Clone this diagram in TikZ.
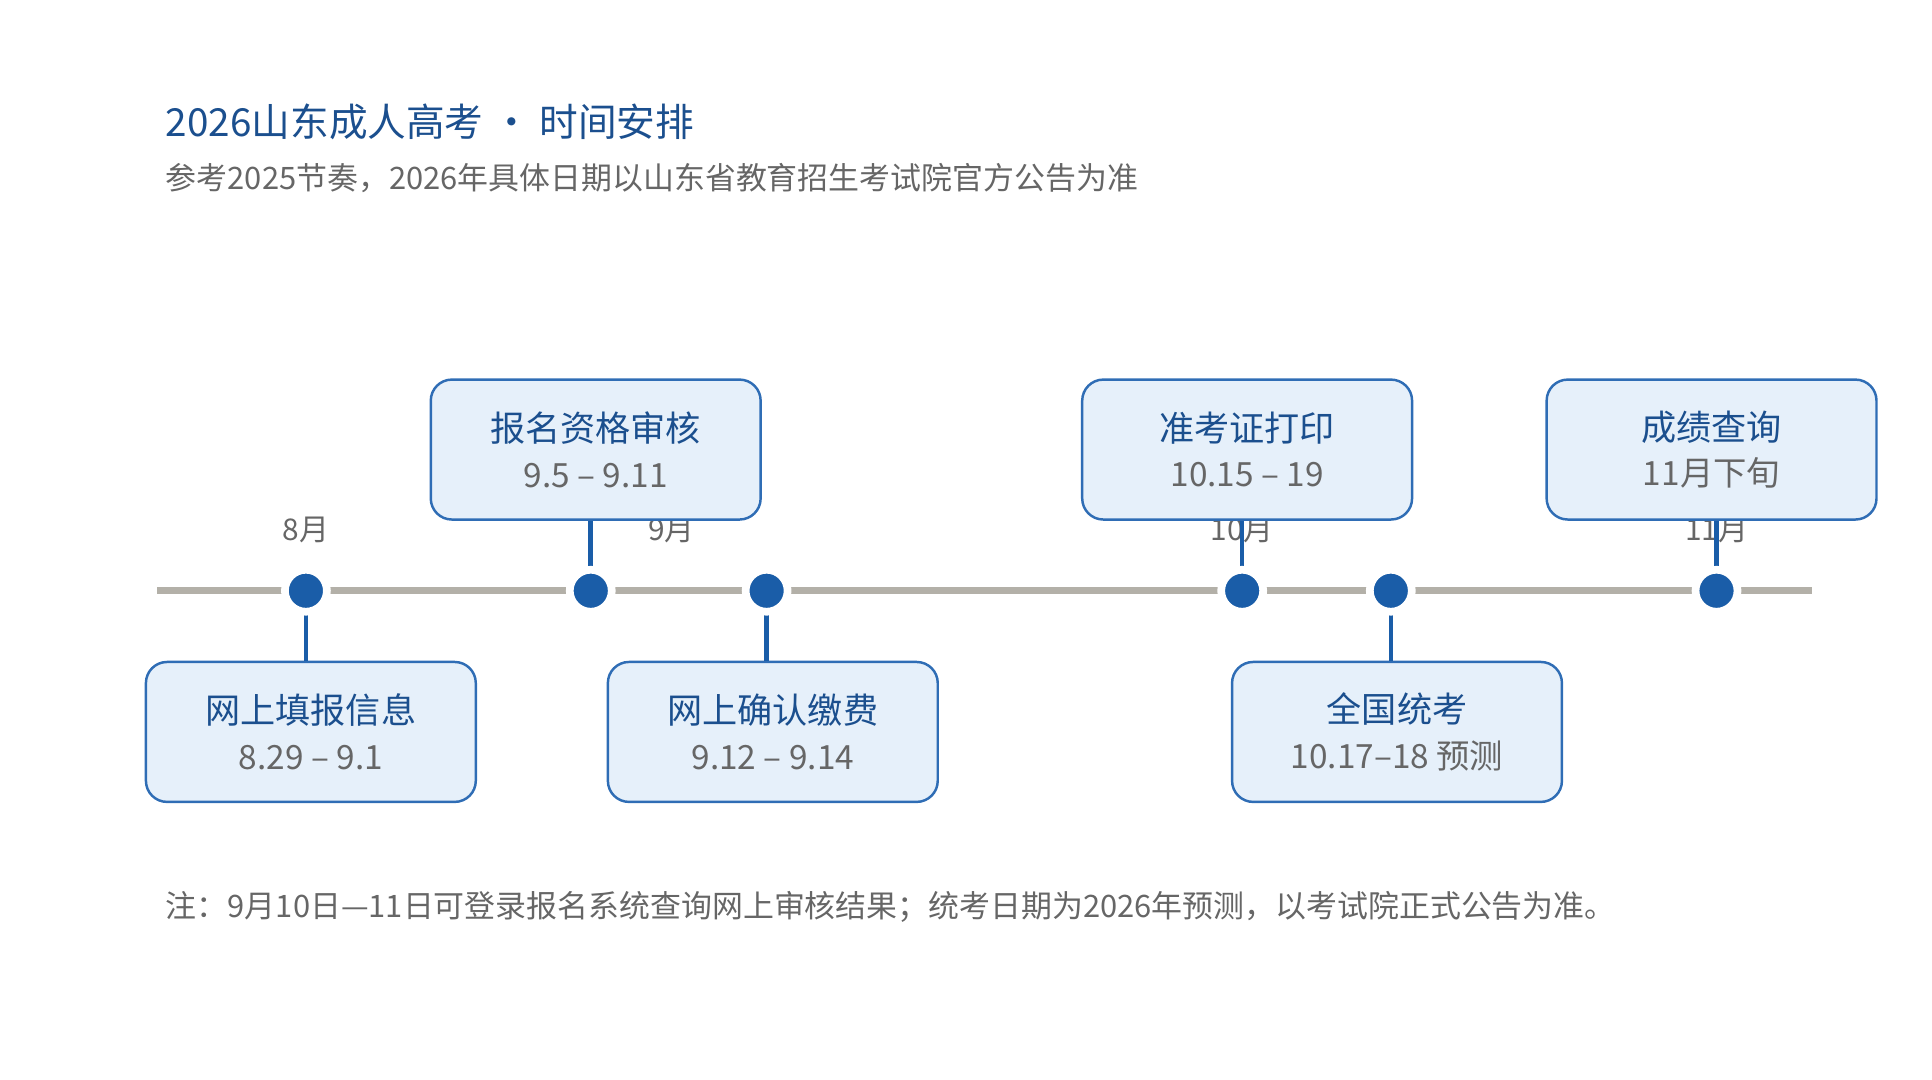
\documentclass[tikz,border=0pt]{standalone}
\usepackage{fontspec}
\setmainfont{Noto Sans CJK SC}
\usetikzlibrary{positioning}
\definecolor{titleblue}{HTML}{1B4F8E}
\definecolor{dotblue}{HTML}{1A5DA8}
\definecolor{boxfill}{HTML}{E6F0FA}
\definecolor{boxline}{HTML}{2F6DB5}
\definecolor{axisgray}{HTML}{B3B0A8}
\definecolor{textgray}{HTML}{666666}
\tikzset{
  event/.style={draw=boxline, fill=boxfill, rounded corners=6pt, line width=0.7pt,
    minimum width=3.3cm, minimum height=1.4cm, align=center, inner sep=0pt},
  dot/.style={circle, fill=dotblue, draw=white, line width=2.2pt, minimum size=0.42cm, inner sep=0pt},
  stem/.style={dotblue, line width=1.3pt},
  month/.style={text=textgray, font=\fontsize{8.5}{10}\selectfont}
}
\newcommand{\evtext}[2]{{\color{titleblue}\fontsize{10}{12}\selectfont #1}\\[1pt]{\color{textgray}\fontsize{9.5}{12}\selectfont #2}}
\begin{document}
\begin{tikzpicture}[x=0.012385cm, y=-0.012385cm]
\useasboundingbox (0,0) rectangle (1560,872);
% heading
\node[anchor=west, text=titleblue, font=\fontsize{11}{13}\selectfont] (title) at (124,98) {2026山东成人高考 · 时间安排};
\node[anchor=west, text=textgray, font=\fontsize{8.8}{11}\selectfont] (sub) at (124,144) {参考2025节奏，2026年具体日期以山东省教育招生考试院官方公告为准};
% axis
\draw[axisgray, line width=2pt] (127,477) -- (1463,477);
% months
\node[month] (m8) at (247,428) {8月};
\node[month] (m9) at (542,428) {9月};
\node[month] (m10) at (1003,428) {10月};
\node[month] (m11) at (1386,428) {11月};
% boxes
\node[event] (apply) at (251,591) {\evtext{网上填报信息}{8.29 – 9.1}};
\node[event] (check) at (481,363) {\evtext{报名资格审核}{9.5 – 9.11}};
\node[event] (pay) at (624,591) {\evtext{网上确认缴费}{9.12 – 9.14}};
\node[event] (ticket) at (1007,363) {\evtext{准考证打印}{10.15 – 19}};
\node[event] (exam) at (1128,591) {\evtext{全国统考}{10.17–18 预测}};
\node[event] (score) at (1382,363) {\evtext{成绩查询}{11月下旬}};
% stems and dots
\foreach \x/\n/\b/\side in {247/d1/apply/north, 477/d2/check/south, 619/d3/pay/north,
    1003/d4/ticket/south, 1123/d5/exam/north, 1386/d6/score/south} {
  \coordinate (\n) at (\x,477);
  \draw[stem] (\n) -- (\n |- \b.\side);
  \node[dot] at (\n) {};
}
% note
\node[anchor=west, text=textgray, font=\fontsize{8.8}{11}\selectfont] (note) at (124,732) {注：9月10日—11日可登录报名系统查询网上审核结果；统考日期为2026年预测，以考试院正式公告为准。};
\end{tikzpicture}
\end{document}
